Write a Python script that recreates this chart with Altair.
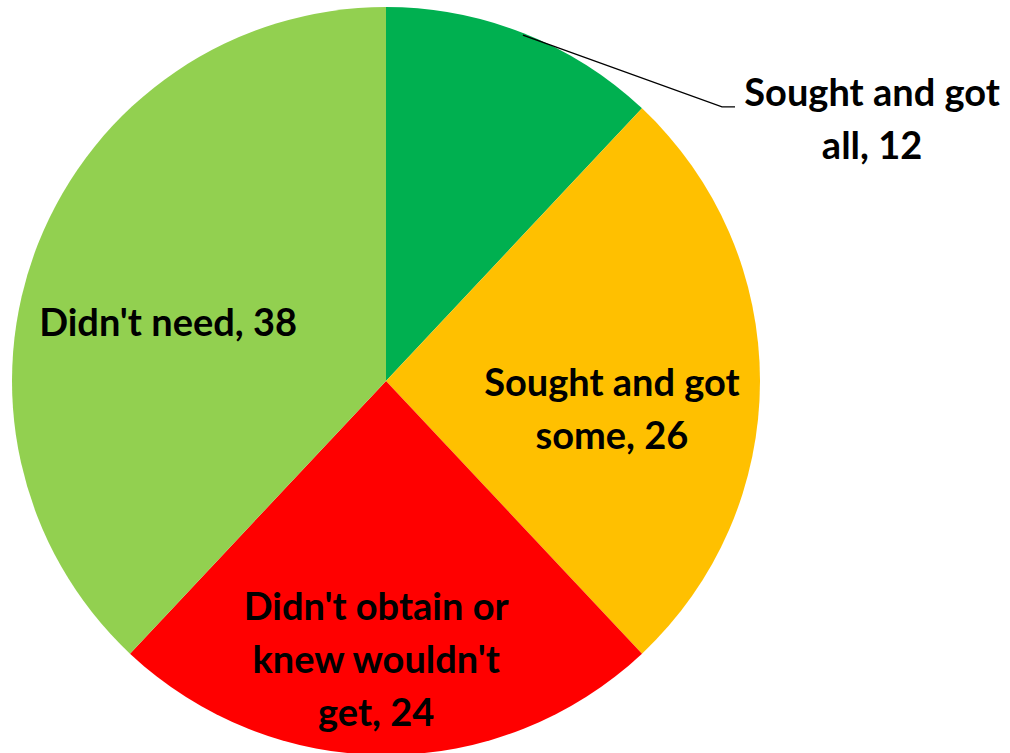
import math
import altair as alt
import pandas as pd

categories = ["Sought and got all", "Sought and got some",
              "Didn't obtain or knew wouldn't get", "Didn't need"]
values = [12, 26, 24, 38]
label_text = ["Sought and got\nall, 12", "Sought and got\nsome, 26",
              "Didn't obtain or\nknew wouldn't\nget, 24", "Didn't need, 38"]
colors = ["#00B050", "#FFC000", "#FF0000", "#92D050"]

W, H = 1010, 753
CX, CY, R = 386, 381, 374
LH = 53

df = pd.DataFrame({"cat": categories, "value": values, "order": range(4), "label": label_text})
total = sum(values)
cum = df["value"].cumsum()
df["mid"] = (cum - df["value"] / 2) / total * 2 * math.pi

# label layout: (radius, angle offset in degrees) from each slice's mid angle
layout = {0: (551, 40.3), 1: (228, 7.8), 2: (281, 2.0), 3: (225, -7.2)}
lx, ly = [], []
for i, m in enumerate(df["mid"]):
    r, d = layout[i]
    a = m + math.radians(d)
    n = df["label"].iloc[i].count("\n") + 1
    lx.append(CX + r * math.sin(a))
    ly.append(CY - r * math.cos(a) - (n - 1) * LH / 2)
df["lx"] = lx
df["ly"] = ly

# leader line for first slice
m0 = df["mid"].iloc[0]
sx, sy = CX + 372 * math.sin(m0), CY - 372 * math.cos(m0)
ex, ey = CX + 433.6 * math.sin(math.radians(50.8)), CY - 433.6 * math.cos(math.radians(50.8))
leader = pd.DataFrame({"x": [sx, ex, ex + 13], "y": [sy, ey, ey], "o": [0, 1, 2]})

pie = alt.Chart(df).mark_arc(outerRadius=R).encode(
    theta=alt.Theta("value:Q", stack=True),
    order=alt.Order("order:Q"),
    color=alt.Color("cat:N", scale=alt.Scale(domain=categories, range=colors), legend=None),
    x=alt.value(CX),
    y=alt.value(CY),
)

line = alt.Chart(leader).mark_line(color="black", strokeWidth=1.3).encode(
    x=alt.X("x:Q", scale=None),
    y=alt.Y("y:Q", scale=None),
    order="o:Q",
)

text = alt.Chart(df).mark_text(
    font="Lato", fontWeight="bold", fontSize=38, lineBreak="\n",
    lineHeight=LH, align="center", baseline="middle", color="black",
).encode(
    x=alt.X("lx:Q", scale=None),
    y=alt.Y("ly:Q", scale=None),
    text="label:N",
)

chart = alt.layer(pie, line, text).properties(
    width=W, height=H, autosize=alt.AutoSizeParams(type="none"), padding=0,
).configure_view(stroke=None)

chart.save("out.html", embed_options={"renderer": "svg", "actions": False})
